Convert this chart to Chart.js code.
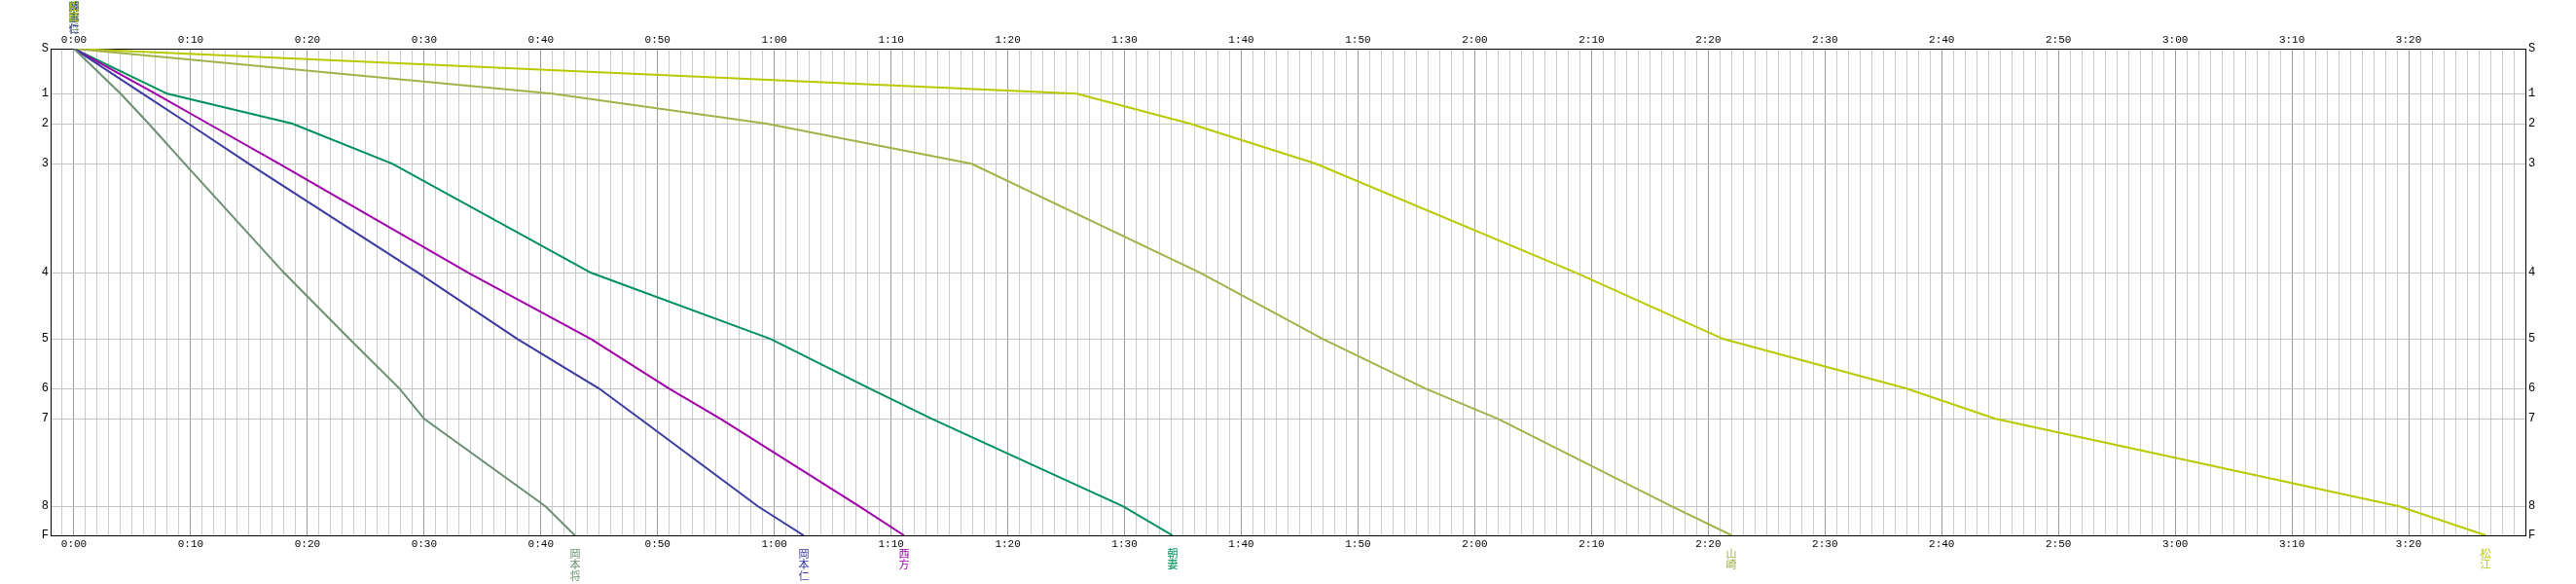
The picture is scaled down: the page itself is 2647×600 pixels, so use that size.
<!DOCTYPE html>
<html><head><meta charset="utf-8">
<script src="https://cdn.jsdelivr.net/npm/chart.js@4.4.0/dist/chart.umd.min.js"></script>
<style>html,body{margin:0;padding:0;background:#fff;overflow:hidden}#wrap{width:2647px;height:600px;position:relative}</style>
</head><body><div id="wrap"><canvas id="c" width="2647" height="600"></canvas></div>
<script>
// checkpoints (top to bottom) and their relative course positions
const stationLabels = ['S','1','2','3','4','5','6','7','8','F'];
const stationPos = [0, 46.3, 77.0, 118.3, 230.3, 298.3, 349.3, 380.3, 470.3, 500];

// runners, colours, and split times in minutes at each checkpoint
const runnerNames = ['岡本将','岡本仁','西方','朝妻','山崎','松江'];
const runnerColors = ['#6b8f72','#3a3aa2','#a000aa','#00915a','#a2b24a','#b9c900'];
const timesOkamotoSho = [0, 4.0, 6.4, 9.5, 18.0, 23.6, 27.9, 30.0, 40.4, 42.9];
const timesOkamotoJin = [0, 5.9, 9.8, 15.0, 29.5, 38.0, 45.0, 48.5, 58.6, 62.5];
const timesNishikata  = [0, 7.0, 11.5, 17.6, 33.8, 44.3, 51.0, 55.4, 67.3, 71.1];
const timesAsazuma    = [0, 8.0, 18.7, 27.3, 44.3, 59.7, 68.2, 73.5, 89.9, 94.1];
const timesYamazaki   = [0, 41.0, 59.3, 76.9, 96.5, 107.0, 115.8, 122.0, 136.9, 142.0];
const timesMatsue     = [0, 85.9, 95.6, 106.4, 128.7, 141.3, 157.0, 164.6, 199.2, 206.6];
const runnerTimes = [timesOkamotoSho, timesOkamotoJin, timesNishikata, timesAsazuma, timesYamazaki, timesMatsue];

// time axis range (minutes)
const timeMin = -2, timeMax = 210;

function fmtTime(v){
  if (v < 0 || v % 10 !== 0 || v === timeMax) return '';
  const h = Math.floor(v/60), m = v % 60;
  return h + ':' + (m < 10 ? '0' : '') + m;
}

const tickFont = {family:'"Liberation Mono", monospace', size:11};

const datasets = runnerNames.map((name, i) => ({
  label: name,
  data: runnerTimes[i].map((t, k) => ({x: t, y: stationPos[k]})),
  borderColor: runnerColors[i],
  backgroundColor: runnerColors[i],
  borderWidth: 2,
  pointRadius: 0,
  tension: 0,
  fill: false
}));

const nameLabels = {
  id: 'nameLabels',
  afterDraw(chart){
    const ctx = chart.ctx, xs = chart.scales.x, area = chart.chartArea;
    ctx.save();
    ctx.font = '11px "Noto Sans CJK JP"';
    ctx.textAlign = 'center';
    ctx.textBaseline = 'top';
    const lh = 11.5;
    runnerNames.forEach((name, i) => {
      const t = runnerTimes[i];
      ctx.fillStyle = runnerColors[i];
      const xs0 = Math.round(xs.getPixelForValue(t[0]));
      const xe = Math.round(xs.getPixelForValue(t[t.length-1]));
      [...name].forEach((ch, k) => {
        ctx.fillText(ch, xs0, 1 + k*lh);
        ctx.fillText(ch, xe, area.bottom + 13 + k*lh);
      });
    });
    ctx.restore();
  }
};

new Chart(document.getElementById('c'), {
  type: 'line',
  data: {datasets},
  plugins: [nameLabels],
  options: {
    responsive: false,
    animation: false,
    layout: {padding: 0},
    plugins: {legend: {display: false}, tooltip: {enabled: false}, title: {display: false}},
    scales: {
      x: {
        type: 'linear', position: 'bottom', min: timeMin, max: timeMax,
        ticks: {stepSize: 1, autoSkip: false, maxRotation: 0, minRotation: 0, padding: 2, color: '#000', font: tickFont, callback: v => fmtTime(v)},
        grid: {drawTicks: false, lineWidth: 1, color: c => (c.tick && c.tick.value % 10 === 0) ? '#9c9c9c' : '#cbcbcb'},
        border: {display: true, color: '#000', width: 1},
        afterFit: s => { s.height = 50; }
      },
      x2: {
        type: 'linear', position: 'top', min: timeMin, max: timeMax,
        ticks: {stepSize: 10, autoSkip: false, maxRotation: 0, minRotation: 0, padding: 2, color: '#000', font: tickFont, callback: v => fmtTime(v)},
        grid: {display: false, drawTicks: false},
        border: {display: true, color: '#000', width: 1},
        afterFit: s => { s.height = 50; }
      },
      y: {
        type: 'linear', position: 'left', reverse: true, min: 0, max: 500,
        afterBuildTicks: s => { s.ticks = stationPos.map(v => ({value: v})); },
        ticks: {autoSkip: false, padding: 2, color: '#000', font: {family:'"Liberation Mono", monospace', size:12}, callback: (v, i) => stationLabels[i]},
        grid: {drawTicks: false, color: '#c4c4c4', lineWidth: 1},
        border: {display: true, color: '#000', width: 1},
        afterFit: s => { s.width = 52; }
      },
      y2: {
        type: 'linear', position: 'right', reverse: true, min: 0, max: 500,
        afterBuildTicks: s => { s.ticks = stationPos.map(v => ({value: v})); },
        ticks: {autoSkip: false, padding: 3, color: '#000', font: {family:'"Liberation Mono", monospace', size:12}, callback: (v, i) => stationLabels[i]},
        grid: {display: false, drawTicks: false},
        border: {display: true, color: '#000', width: 1},
        afterFit: s => { s.width = 52; }
      }
    }
  }
});
</script>
</body></html>
